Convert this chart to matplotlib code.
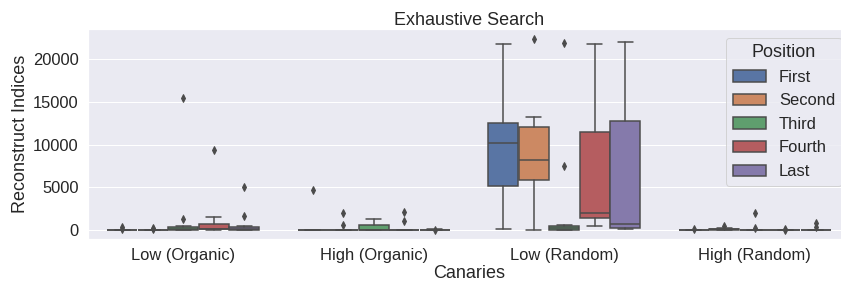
import numpy as np
import matplotlib
matplotlib.use("Agg")
import matplotlib.pyplot as plt
import matplotlib.patches as mpatches
import seaborn as sns

canaries = ["Low (Organic)", "High (Organic)", "Low (Random)", "High (Random)"]
positions = ["First", "Second", "Third", "Fourth", "Last"]

## box stats, rows = canaries, columns = positions
q1 = [[0, 0, 0, 80, 0],
      [0, 0, 0, 0, 0],
      [5117, 5859, 40, 1445, 273],
      [0, 20, 0, 0, 0]]
med = [[0, 0, 60, 160, 120],
       [0, 0, 40, 0, 0],
       [10234, 8164, 250, 1992, 664],
       [0, 60, 0, 0, 0]]
q3 = [[0, 0, 360, 720, 360],
      [0, 0, 550, 0, 20],
      [12500, 12031, 508, 11484, 12734],
      [0, 150, 0, 0, 0]]
whislo = [[0, 0, 0, 0, 0],
          [0, 0, 0, 0, 0],
          [156, 0, 0, 430, 156],
          [0, 0, 0, 0, 0]]
whishi = [[0, 0, 440, 1560, 440],
          [0, 0, 1260, 0, 60],
          [21836, 13281, 560, 21758, 22070],
          [0, 200, 0, 0, 0]]
fliers = [[[120, 400], [120, 250], [1280, 15500], [9350], [1680, 5080]],
          [[4650], [590, 2010], [], [1060, 2090], [30]],
          [[], [22383], [7461, 21953], [], []],
          [[60], [500], [270, 1950], [40, 90], [400, 820]]]

sns.set_theme(style="darkgrid", font_scale=1.5)
plt.rcParams['font.family'] = ['Liberation Sans', 'DejaVu Sans']

colors = sns.color_palette("deep", 5, desat=0.75)
gray = "#4b4b4b"
lw = 1.5
offsets = np.linspace(-0.32, 0.32, 5)
box_w = 0.8 / 5 * 0.98

fig = plt.figure(figsize=(841 / 72, 284 / 72), dpi=72)
ax = fig.add_axes([88 / 841, 45.3 / 284, 762 / 841, 209.4 / 284])

handles = []
for j, pos in enumerate(positions):
    stats = []
    for i in range(len(canaries)):
        stats.append(dict(med=med[i][j], q1=q1[i][j], q3=q3[i][j],
                          whislo=whislo[i][j], whishi=whishi[i][j],
                          fliers=fliers[i][j]))
    ax.bxp(stats, positions=np.arange(len(canaries)) + offsets[j],
           widths=box_w, patch_artist=True, manage_ticks=False,
           boxprops=dict(facecolor=colors[j], edgecolor=gray, linewidth=lw),
           medianprops=dict(color=gray, linewidth=lw),
           whiskerprops=dict(color=gray, linewidth=lw),
           capprops=dict(color=gray, linewidth=lw),
           flierprops=dict(marker="d", markerfacecolor=gray,
                           markeredgecolor=gray, markersize=5))
    handles.append(mpatches.Patch(facecolor=colors[j], edgecolor=gray,
                                  linewidth=lw, label=pos))

ax.set_xticks(np.arange(len(canaries)))
ax.set_xticklabels(canaries)
ax.set_xlim(-0.5, len(canaries) - 0.5)
ax.set_ylim(-1020, 23520)
ax.xaxis.grid(False)
ax.set_xlabel("Canaries", labelpad=2)
ax.set_ylabel("Reconstruct Indices")
ax.set_title("Exhaustive Search", pad=4)
ax.legend(handles=handles, title="Position", loc="upper right",
          labelspacing=0.52)

fig.savefig("out.png", dpi=72)
